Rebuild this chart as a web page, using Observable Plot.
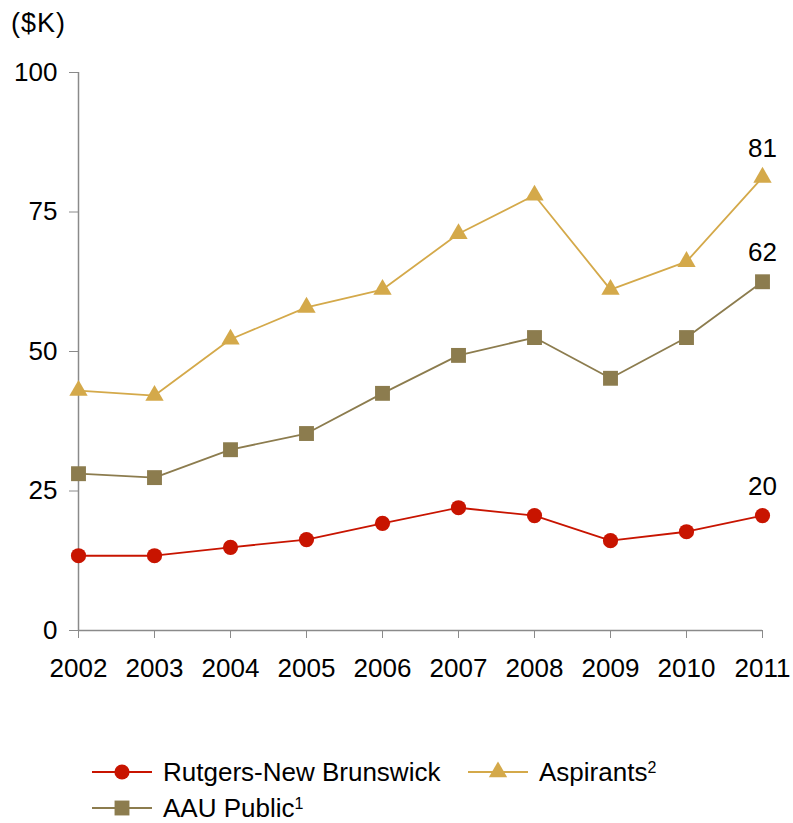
<!DOCTYPE html>
<html>
<head>
<meta charset="utf-8">
<script src="https://cdn.jsdelivr.net/npm/d3@7"></script>
<script src="https://cdn.jsdelivr.net/npm/@observablehq/plot@0.6"></script>
<style>
  body { margin: 0; background: #fff; font-family: "Liberation Sans", Arial, sans-serif; }
  #wrap { position: relative; width: 793px; height: 823px; }
  #unit { position: absolute; left: 11px; top: 8px; font-size: 27px; letter-spacing: 1px; color: #000; }
  #legend { position: absolute; left: 0; top: 700px; width: 793px; height: 123px; font-size: 26px; color: #000; }
  .item { position: absolute; display: flex; align-items: center; white-space: nowrap; height: 20px; line-height: 20px; }
  .item svg { margin-right: 11px; }
  sup { font-size: 16px; vertical-align: 8px; line-height: 0; }
</style>
</head>
<body>
<div id="wrap">
  <div id="unit">($K)</div>
  <div id="legend"></div>
</div>
<script>
const years = [2002, 2003, 2004, 2005, 2006, 2007, 2008, 2009, 2010, 2011];
const rutgers = [13.4, 13.4, 14.9, 16.3, 19.2, 22.0, 20.6, 16.1, 17.7, 20.6];
const aspirants = [43.0, 42.1, 52.2, 57.9, 61.1, 71.1, 78.0, 61.1, 66.1, 81.2];
const aauPublic = [28.1, 27.4, 32.4, 35.3, 42.5, 49.3, 52.5, 45.2, 52.5, 62.5];
const yTicks = [0, 25, 50, 75, 100];
const endLabels = ["20", "81", "62"];

const seriesNames = ["Rutgers-New Brunswick", "Aspirants", "AAU Public"];
const seriesColors = ["#c81400", "#d4a94a", "#8c7c4e"];
const seriesSymbols = ["circle", "triangle", "square"];
const seriesR = [7.6, 6.8, 8.4];
const seriesValues = [rutgers, aspirants, aauPublic];

const data = [];
seriesNames.forEach((s, i) => {
  years.forEach((yr, j) => data.push({series: s, year: yr, value: seriesValues[i][j]}));
});
const lastPoints = seriesNames.map((s, i) => ({series: s, year: years[years.length - 1], value: seriesValues[i][years.length - 1], label: endLabels[i]}));

const marks = [
  Plot.ruleY([0], {stroke: "#8a8a8a", strokeWidth: 1.5}),
  Plot.ruleX([2002], {stroke: "#8a8a8a", strokeWidth: 1.5}),
  Plot.axisY({ticks: yTicks, tickSize: 9, tickPadding: 12, stroke: "#8a8a8a", label: null, fontSize: 26, fill: "#000"}),
  Plot.axisX({ticks: years, tickSize: 8, tickPadding: 20, stroke: "#8a8a8a", label: null, tickFormat: d => String(d), fontSize: 26, fill: "#000", style: {letterSpacing: "1px"}})
];
seriesNames.forEach((s, i) => {
  const d = data.filter(r => r.series === s);
  marks.push(Plot.line(d, {x: "year", y: "value", stroke: seriesColors[i], strokeWidth: 1.8}));
  marks.push(Plot.dot(d, {x: "year", y: "value", fill: seriesColors[i], symbol: () => seriesSymbols[i], r: seriesR[i], stroke: "none"}));
});
marks.push(Plot.text(lastPoints, {x: "year", y: "value", text: "label", dy: -29, fontSize: 26, fill: "#000"}));

const chart = Plot.plot({
  width: 793,
  height: 700,
  marginTop: 72,
  marginBottom: 70,
  marginLeft: 78,
  marginRight: 31,
  style: {fontFamily: "Liberation Sans, Arial, sans-serif", background: "transparent", overflow: "visible"},
  x: {domain: [2002, 2011], type: "linear"},
  y: {domain: [0, 100]},
  symbol: {type: "identity"},
  marks
});
chart.style.position = "absolute";
chart.style.left = "0px";
chart.style.top = "0px";
document.getElementById("wrap").insertBefore(chart, document.getElementById("legend"));

// legend
const legendItems = [
  {idx: 0, text: "Rutgers-New Brunswick", sup: "", left: 92, top: 62},
  {idx: 1, text: "Aspirants", sup: "2", left: 468, top: 62},
  {idx: 2, text: "AAU Public", sup: "1", left: 92, top: 98}
];
const legend = document.getElementById("legend");
legendItems.forEach(it => {
  const div = document.createElement("div");
  div.className = "item";
  div.style.left = it.left + "px";
  div.style.top = it.top + "px";
  const name = seriesSymbols[it.idx];
  const sym = d3.symbol(d3["symbol" + name[0].toUpperCase() + name.slice(1)], Math.PI * seriesR[it.idx] ** 2)();
  div.innerHTML = `<svg width="60" height="20" style="overflow:visible"><line x1="0" x2="60" y1="10" y2="10" stroke="${seriesColors[it.idx]}" stroke-width="1.8"/><path d="${sym}" transform="translate(30,10)" fill="${seriesColors[it.idx]}"/></svg><span>${it.text}${it.sup ? "<sup>" + it.sup + "</sup>" : ""}</span>`;
  legend.appendChild(div);
});
</script>
</body>
</html>
